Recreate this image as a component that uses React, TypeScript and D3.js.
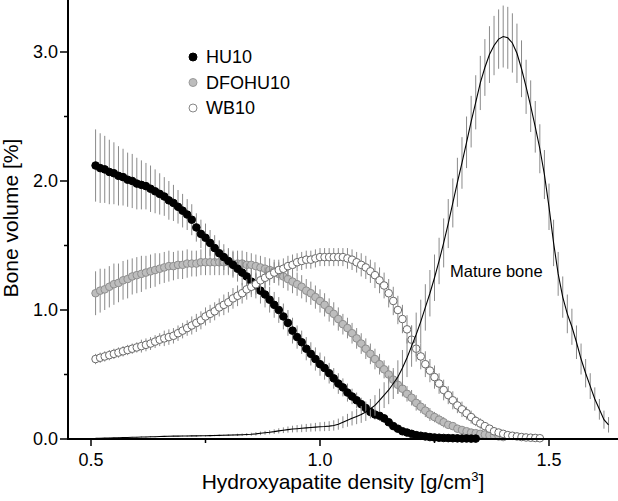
import * as d3 from 'd3';

// density grid: every series is sampled at 0.01 g/cm3, starting at 0.51
const xStart = 0.51;
const xStep = 0.01;

const hu10 = [
  2.12, 2.10, 2.09, 2.07, 2.06, 2.04, 2.03, 2.01, 2.00, 1.98,
  1.97, 1.96, 1.94, 1.92, 1.90, 1.88, 1.85, 1.83, 1.80, 1.77,
  1.74, 1.70, 1.64, 1.59, 1.56, 1.52, 1.48, 1.44, 1.41, 1.38,
  1.35, 1.32, 1.29, 1.26, 1.22, 1.19, 1.15, 1.12, 1.08, 1.04,
  1.00, 0.95, 0.90, 0.84, 0.79, 0.75, 0.70, 0.66, 0.62, 0.58,
  0.55, 0.51, 0.47, 0.43, 0.40, 0.36, 0.33, 0.30, 0.27, 0.24,
  0.21, 0.19, 0.18, 0.16, 0.13, 0.10, 0.08, 0.06, 0.05, 0.04,
  0.03, 0.025, 0.02, 0.015, 0.012, 0.01, 0.008, 0.007, 0.006, 0.005,
  0.004, 0.004, 0.003, 0.003,
];
const hu10Err = [
  0.28, 0.27, 0.26, 0.25, 0.24, 0.23, 0.22, 0.21, 0.21, 0.20,
  0.19, 0.18, 0.18, 0.17, 0.16, 0.15, 0.15, 0.14, 0.13, 0.13,
  0.12, 0.12, 0.11, 0.11, 0.11, 0.10, 0.10, 0.10, 0.10, 0.10,
  0.10, 0.10, 0.10, 0.10, 0.10, 0.10, 0.10, 0.10, 0.10, 0.10,
  0.10, 0.10, 0.10, 0.10, 0.09, 0.09, 0.09, 0.09, 0.09, 0.09,
  0.09, 0.08, 0.08, 0.08, 0.07, 0.07, 0.06, 0.06, 0.05, 0.05,
  0.04, 0.04, 0.04, 0.03, 0.03, 0.03, 0.02, 0.02, 0.02, 0.02,
  0.01, 0.01, 0.01, 0.01, 0.01, 0.01, 0.01, 0.01, 0.01, 0.01,
  0.01, 0.01, 0.01, 0.01,
];

const dfohu10 = [
  1.13, 1.15, 1.16, 1.18, 1.20, 1.21, 1.23, 1.24, 1.26, 1.27,
  1.28, 1.29, 1.30, 1.31, 1.32, 1.33, 1.34, 1.34, 1.35, 1.35,
  1.36, 1.36, 1.36, 1.37, 1.37, 1.37, 1.37, 1.37, 1.37, 1.37,
  1.36, 1.36, 1.36, 1.35, 1.35, 1.34, 1.33, 1.32, 1.31, 1.30,
  1.28, 1.26, 1.24, 1.22, 1.20, 1.18, 1.15, 1.13, 1.10, 1.07,
  1.04, 1.00, 0.97, 0.93, 0.89, 0.86, 0.82, 0.78, 0.74, 0.70,
  0.66, 0.62, 0.58, 0.54, 0.50, 0.46, 0.42, 0.39, 0.35, 0.32,
  0.28, 0.25, 0.22, 0.19, 0.17, 0.15, 0.13, 0.11, 0.10, 0.08,
  0.07, 0.06, 0.05, 0.045, 0.04, 0.035, 0.03, 0.025, 0.02, 0.015,
];
const dfohu10Err = [
  0.17, 0.17, 0.16, 0.16, 0.16, 0.15, 0.15, 0.15, 0.14, 0.14,
  0.14, 0.13, 0.13, 0.13, 0.12, 0.12, 0.12, 0.11, 0.11, 0.11,
  0.11, 0.10, 0.10, 0.10, 0.10, 0.10, 0.10, 0.10, 0.10, 0.10,
  0.10, 0.10, 0.10, 0.10, 0.09, 0.09, 0.09, 0.09, 0.09, 0.09,
  0.09, 0.09, 0.09, 0.09, 0.09, 0.09, 0.09, 0.09, 0.09, 0.09,
  0.09, 0.09, 0.09, 0.09, 0.08, 0.08, 0.08, 0.08, 0.08, 0.08,
  0.08, 0.08, 0.08, 0.07, 0.07, 0.07, 0.07, 0.06, 0.06, 0.06,
  0.06, 0.05, 0.05, 0.05, 0.04, 0.04, 0.04, 0.03, 0.03, 0.03,
  0.03, 0.02, 0.02, 0.02, 0.02, 0.01, 0.01, 0.01, 0.01, 0.01,
];

const wb10 = [
  0.62, 0.63, 0.64, 0.65, 0.66, 0.67, 0.68, 0.69, 0.70, 0.71,
  0.72, 0.73, 0.74, 0.755, 0.77, 0.78, 0.79, 0.80, 0.82, 0.84,
  0.86, 0.88, 0.90, 0.92, 0.95, 0.97, 0.99, 1.02, 1.04, 1.06,
  1.09, 1.11, 1.13, 1.16, 1.18, 1.20, 1.23, 1.25, 1.27, 1.29,
  1.31, 1.32, 1.34, 1.35, 1.37, 1.38, 1.39, 1.39, 1.40, 1.41,
  1.41, 1.41, 1.41, 1.41, 1.41, 1.40, 1.39, 1.37, 1.35, 1.33,
  1.30, 1.27, 1.23, 1.19, 1.13, 1.07, 1.00, 0.93, 0.85, 0.77,
  0.70, 0.64, 0.58, 0.53, 0.48, 0.43, 0.38, 0.34, 0.30, 0.26,
  0.23, 0.20, 0.17, 0.14, 0.12, 0.10, 0.08, 0.06, 0.05, 0.04,
  0.03, 0.025, 0.02, 0.015, 0.012, 0.01, 0.008, 0.006,
];
const wb10Err = [
  0.04, 0.04, 0.04, 0.04, 0.04, 0.04, 0.04, 0.04, 0.04, 0.04,
  0.05, 0.05, 0.05, 0.05, 0.05, 0.06, 0.06, 0.06, 0.06, 0.06,
  0.06, 0.07, 0.07, 0.07, 0.07, 0.07, 0.07, 0.07, 0.08, 0.08,
  0.08, 0.08, 0.08, 0.08, 0.08, 0.08, 0.08, 0.08, 0.08, 0.08,
  0.08, 0.08, 0.08, 0.08, 0.07, 0.07, 0.07, 0.07, 0.07, 0.07,
  0.07, 0.07, 0.07, 0.07, 0.07, 0.08, 0.08, 0.08, 0.09, 0.09,
  0.09, 0.10, 0.10, 0.10, 0.11, 0.11, 0.11, 0.11, 0.11, 0.11,
  0.10, 0.10, 0.10, 0.09, 0.09, 0.08, 0.08, 0.07, 0.07, 0.06,
  0.06, 0.05, 0.05, 0.04, 0.04, 0.03, 0.03, 0.03, 0.02, 0.02,
  0.02, 0.01, 0.01, 0.01, 0.01, 0.01, 0.01, 0.01,
];

const mature = [
  0.005, 0.006, 0.007, 0.008, 0.009, 0.010, 0.011, 0.012, 0.013, 0.014,
  0.015, 0.016, 0.017, 0.018, 0.019, 0.020, 0.021, 0.022, 0.022, 0.023,
  0.023, 0.024, 0.024, 0.025, 0.025, 0.026, 0.027, 0.028, 0.029, 0.030,
  0.031, 0.032, 0.033, 0.035, 0.037, 0.040, 0.044, 0.048, 0.052, 0.057,
  0.063, 0.068, 0.073, 0.077, 0.080, 0.083, 0.086, 0.089, 0.092, 0.095,
  0.097, 0.10, 0.105, 0.115, 0.13, 0.145, 0.16, 0.175, 0.19, 0.21,
  0.235, 0.26, 0.30, 0.34, 0.38, 0.43, 0.48, 0.55, 0.63, 0.72,
  0.81, 0.91, 1.02, 1.13, 1.25, 1.38, 1.52, 1.67, 1.83, 1.99,
  2.14, 2.30, 2.46, 2.61, 2.76, 2.88, 2.98, 3.05, 3.10, 3.12,
  3.11, 3.07, 2.99, 2.87, 2.73, 2.58, 2.42, 2.25, 2.05, 1.80,
  1.52, 1.28, 1.10, 0.97, 0.87, 0.75, 0.62, 0.51, 0.41, 0.31,
  0.23, 0.15, 0.11,
];
const matureErr = [
  0.003, 0.003, 0.003, 0.003, 0.003, 0.003, 0.003, 0.003, 0.003, 0.003,
  0.004, 0.004, 0.004, 0.004, 0.004, 0.004, 0.004, 0.004, 0.004, 0.004,
  0.006, 0.006, 0.006, 0.006, 0.006, 0.006, 0.006, 0.006, 0.006, 0.006,
  0.008, 0.009, 0.010, 0.011, 0.012, 0.013, 0.014, 0.015, 0.016, 0.018,
  0.020, 0.022, 0.024, 0.026, 0.028, 0.030, 0.031, 0.032, 0.033, 0.035,
  0.036, 0.038, 0.040, 0.043, 0.046, 0.050, 0.055, 0.060, 0.065, 0.070,
  0.075, 0.08, 0.09, 0.10, 0.11, 0.12, 0.13, 0.14, 0.15, 0.16,
  0.17, 0.17, 0.18, 0.18, 0.18, 0.18, 0.19, 0.19, 0.19, 0.19,
  0.20, 0.20, 0.20, 0.21, 0.21, 0.22, 0.22, 0.23, 0.23, 0.24,
  0.24, 0.23, 0.23, 0.22, 0.21, 0.20, 0.20, 0.19, 0.19, 0.18,
  0.18, 0.17, 0.16, 0.15, 0.14, 0.13, 0.12, 0.11, 0.10, 0.09,
  0.08, 0.07, 0.06,
];

const xTicks = [0.5, 1.0, 1.5];
const xMinor = [0.75, 1.25];
const yTicks = [0, 1, 2, 3];
const yMinor = [0.5, 1.5, 2.5];

const legendItems = [
  { label: 'HU10', fill: '#000', stroke: '#000' },
  { label: 'DFOHU10', fill: '#bdbdbd', stroke: '#9a9a9a' },
  { label: 'WB10', fill: '#fff', stroke: '#888' },
];

const W = 618, H = 501;
const font = 'Arial, "Liberation Sans", Helvetica, sans-serif';

const x = d3.scaleLinear().domain([0.5, 1.5]).range([91, 549]);
const y = d3.scaleLinear().domain([0, 3]).range([439, 52]);

const toPts = (vals: number[], errs: number[]) =>
  vals.map((v, i) => ({ x: xStart + i * xStep, v, e: errs[i] }));

function ErrBars({ pts }: { pts: { x: number; v: number; e: number }[] }) {
  return (
    <g stroke="#8a8a8a" strokeWidth={1}>
      {pts.map((p, i) => (
        <line key={i} x1={x(p.x)} x2={x(p.x)} y1={y(p.v + p.e)} y2={y(p.v - p.e)} />
      ))}
    </g>
  );
}

function Dots({ pts, fill, stroke }: { pts: { x: number; v: number; e: number }[]; fill: string; stroke: string }) {
  return (
    <g fill={fill} stroke={stroke} strokeWidth={1}>
      {pts.map((p, i) => (
        <circle key={i} cx={x(p.x)} cy={y(p.v)} r={3.8} />
      ))}
    </g>
  );
}

export default function App() {
  const huPts = toPts(hu10, hu10Err);
  const dfoPts = toPts(dfohu10, dfohu10Err);
  const wbPts = toPts(wb10, wb10Err);
  const matPts = toPts(mature, matureErr);

  const matLine = d3.line<{ x: number; v: number }>()
    .x(d => x(d.x))
    .y(d => y(d.v))(matPts) || '';

  const axisX0 = 68, axisY0 = 439;

  return (
    <svg width={W} height={H} style={{ position: 'absolute', left: 0, top: 0, background: '#fff' }} fontFamily={font}>
      {/* series */}
      <ErrBars pts={dfoPts} />
      <Dots pts={dfoPts} fill="#bdbdbd" stroke="#8f8f8f" />
      <ErrBars pts={huPts} />
      <Dots pts={huPts} fill="#000" stroke="#000" />
      <ErrBars pts={wbPts} />
      <Dots pts={wbPts} fill="#fff" stroke="#6a6a6a" />
      <ErrBars pts={matPts} />
      <path d={matLine} fill="none" stroke="#000" strokeWidth={1.1} />

      {/* axes */}
      <line x1={axisX0} x2={axisX0} y1={0} y2={axisY0 + 1} stroke="#000" strokeWidth={2} />
      <line x1={axisX0 - 1} x2={W} y1={axisY0} y2={axisY0} stroke="#000" strokeWidth={2} />
      {yTicks.map(t => (
        <g key={t}>
          <line x1={axisX0 - 8} x2={axisX0} y1={y(t)} y2={y(t)} stroke="#000" strokeWidth={1.5} />
          <text x={58} y={y(t)} dy="0.35em" textAnchor="end" fontSize={18}>{t.toFixed(1)}</text>
        </g>
      ))}
      {yMinor.map(t => (
        <line key={t} x1={axisX0 - 4} x2={axisX0} y1={y(t)} y2={y(t)} stroke="#000" strokeWidth={1.5} />
      ))}
      {xTicks.map(t => (
        <g key={t}>
          <line x1={x(t)} x2={x(t)} y1={axisY0} y2={axisY0 + 7} stroke="#000" strokeWidth={1.5} />
          <text x={x(t)} y={466} textAnchor="middle" fontSize={18}>{t.toFixed(1)}</text>
        </g>
      ))}
      {xMinor.map(t => (
        <line key={t} x1={x(t)} x2={x(t)} y1={axisY0} y2={axisY0 + 4} stroke="#000" strokeWidth={1.5} />
      ))}

      {/* axis titles */}
      <text x={343} y={489} textAnchor="middle" fontSize={21}>
        Hydroxyapatite density [g/cm<tspan dy={-8} fontSize={13}>3</tspan><tspan dy={8}>]</tspan>
      </text>
      <text transform="translate(18,218) rotate(-90)" textAnchor="middle" fontSize={21}>Bone volume [%]</text>

      {/* legend */}
      {legendItems.map((it, i) => (
        <g key={it.label} transform={`translate(193,${57 + i * 25.5})`}>
          <circle r={4} fill={it.fill} stroke={it.stroke} strokeWidth={1} />
          <text x={13} dy="0.36em" fontSize={18}>{it.label}</text>
        </g>
      ))}

      <text x={450} y={277} fontSize={16.5}>Mature bone</text>
    </svg>
  );
}
